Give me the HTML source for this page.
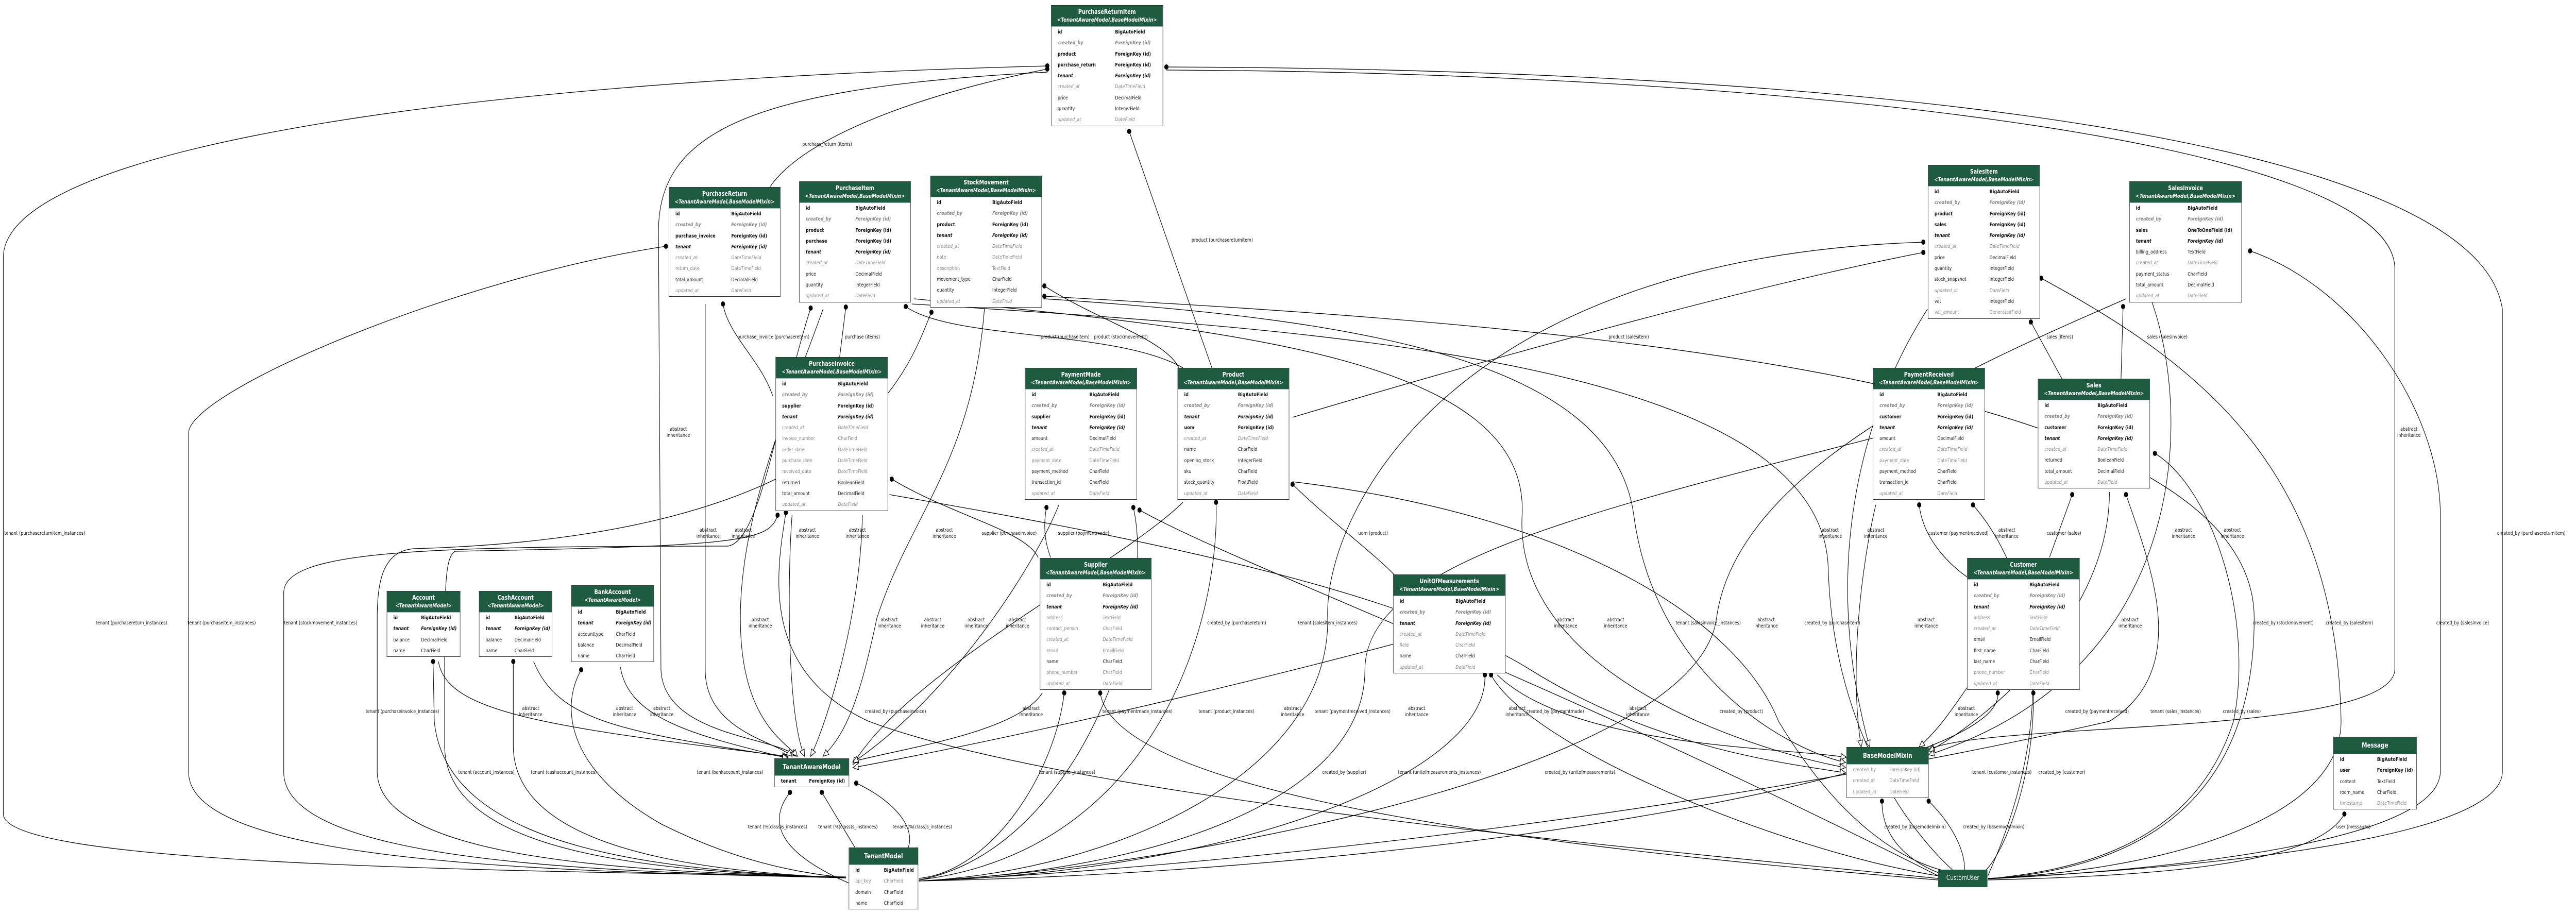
<!DOCTYPE html>
<html><head><meta charset="utf-8">
<style>
html,body{margin:0;padding:0;background:#fff;width:100%;height:100%;overflow:hidden}
#root{display:block;width:100vw;height:100vh}
#c{position:relative;width:6228px;height:1776px;overflow:hidden;background:#fff;font-family:"DejaVu Sans","Liberation Sans",sans-serif}
#c svg{position:absolute;left:0;top:0}
.t{position:absolute;border:1.6px solid #333;background:#fff;box-sizing:border-box;--c:150px}
.h{background:#1e5b40;color:#fff;text-align:center;font-size:12px;font-weight:bold;line-height:15px;height:41px;box-sizing:border-box;padding-top:5px;border-bottom:1px solid #9bb}
.h i{font-size:11px;display:block}
.h1{height:33px;line-height:33px;padding-top:0;font-size:13px}
.r{position:relative;height:21.3px;line-height:21.3px;font-size:10px;white-space:nowrap}
.r span{position:absolute;left:15px}
.r span+span{left:var(--c)}
.b{font-weight:bold;color:#111}
.bi{font-weight:bold;font-style:italic;color:#111}
.g1{font-style:italic;font-weight:bold;color:#8a8a8a}
.g2{font-style:italic;color:#8a8a8a}
.g3{color:#8a8a8a}
.n{color:#222}
.cu{position:absolute;left:4686px;top:1688px;width:119px;height:34px;background:#1e5b40;color:#fff;font-size:13px;line-height:34px;text-align:center}
.l{position:absolute;font-size:10px;line-height:12px;color:#111;text-align:center;white-space:nowrap;transform:translateX(-50%)}
</style></head><body>
<svg id="root" viewBox="0 0 6228 1776" preserveAspectRatio="none" xmlns="http://www.w3.org/2000/svg">
<foreignObject x="0" y="0" width="6228" height="1776">
<div xmlns="http://www.w3.org/1999/xhtml" id="c">
<svg width="6228" height="1776" viewBox="0 0 6228 1776">
<defs>
<marker id="d" markerWidth="12" markerHeight="12" refX="6" refY="6" markerUnits="userSpaceOnUse"><circle cx="6" cy="6" r="5" fill="#000"/></marker>
<marker id="a" markerWidth="16" markerHeight="16" refX="14" refY="8" orient="auto" markerUnits="userSpaceOnUse"><path d="M1,2 L14,8 L1,14 Z" fill="#fff" stroke="#000" stroke-width="1.2"/></marker>
</defs>
<g fill="none" stroke="#000" stroke-width="1.3">
<path marker-start="url(#d)" d="M2532,128 C1000,160 8,300 8,500 L8,1580 C8,1680 1200,1690 2045,1702"/>
<path marker-end="url(#a)" d="M2532,140 C1800,170 1592,260 1592,450 L1598,1300 C1605,1430 1880,1430 1925,1468"/>
<path marker-start="url(#d)" d="M2532,134 C2300,170 1960,250 1862,362"/>
<path marker-start="url(#d)" d="M1610,478 C1100,540 458,760 456,840 L456,1500 C460,1690 1500,1692 2045,1704"/>
<path marker-start="url(#d)" d="M1748,590 C1760,650 1840,700 1868,768"/>
<path marker-end="url(#a)" d="M1705,590 L1705,1300 C1705,1420 1880,1440 1915,1468"/>
<path marker-start="url(#d)" d="M2045,596 L2030,693"/>
<path marker-start="url(#d)" d="M1960,598 C1880,800 1840,1050 1760,1060 C1000,1060 688,1070 686,1150 L686,1500 C690,1690 1600,1692 2045,1704"/>
<path marker-end="url(#a)" d="M1990,600 C1900,800 1790,1000 1790,1200 C1790,1400 1900,1440 1928,1468"/>
<path marker-start="url(#d)" d="M2252,606 C2200,700 2100,1040 1000,1065 C930,1070 912,1120 912,1200 L912,1500 C920,1690 1700,1692 2045,1704"/>
<path marker-end="url(#a)" d="M2380,600 C2350,900 2200,1000 2120,1200 C2080,1350 2050,1420 1990,1468"/>
<path marker-start="url(#d)" d="M1880,1000 C1860,1050 1800,1060 1100,1070 C1080,1080 1075,1120 1075,1250 L1075,1450 C1080,1680 1700,1692 2045,1704"/>
<path marker-end="url(#a)" d="M1915,1000 C1905,1100 1900,1380 1945,1468"/>
<path marker-end="url(#a)" d="M2085,1000 C2080,1200 2000,1400 1960,1468"/>
<path marker-start="url(#d)" d="M1900,995 C1880,1100 1830,1300 2100,1400 C2600,1550 4000,1650 4686,1705"/>
<path marker-end="url(#a)" d="M1060,1284 C1080,1380 1300,1410 1905,1468"/>
<path marker-start="url(#d)" d="M1047,1284 L1050,1400 C1080,1650 1600,1690 2045,1704"/>
<path marker-end="url(#a)" d="M1290,1284 C1350,1400 1500,1420 1905,1470"/>
<path marker-start="url(#d)" d="M1241,1284 L1241,1450 C1245,1650 1700,1692 2045,1704"/>
<path marker-end="url(#a)" d="M1500,1295 C1520,1400 1700,1430 1905,1472"/>
<path marker-start="url(#d)" d="M1405,1300 C1350,1380 1380,1500 1600,1600 C1800,1680 1950,1695 2045,1704"/>
<path marker-start="url(#d)" d="M1910,1538 C1860,1590 1870,1650 2052,1714"/>
<path marker-start="url(#d)" d="M1987,1538 L2067,1645"/>
<path marker-start="url(#d)" d="M2070,1520 C2150,1550 2215,1600 2196,1645"/>
<path marker-end="url(#a)" d="M2520,1345 C2460,1420 2200,1450 2062,1478"/>
<path marker-start="url(#d)" d="M2573,1345 C2550,1500 2400,1690 2222,1705"/>
<path marker-start="url(#d)" d="M2660,1345 C2700,1550 3800,1650 4686,1708"/>
<path marker-start="url(#d)" d="M2156,930 C2300,1000 2480,1030 2510,1082"/>
<path marker-start="url(#d)" d="M2530,985 C2520,1030 2530,1060 2540,1082"/>
<path marker-start="url(#d)" d="M2190,595 C2300,660 2700,640 2860,714"/>
<path marker-start="url(#d)" d="M2525,555 C2650,620 2820,660 2850,714"/>
<path marker-start="url(#d)" d="M2730,255 L2930,714"/>
<path marker-start="url(#d)" d="M4650,490 C4200,560 3500,720 3125,810"/>
<path marker-start="url(#d)" d="M3125,940 C3200,1000 3330,1080 3370,1115"/>
<path marker-end="url(#a)" d="M2860,975 C2700,1100 2200,1300 2062,1484"/>
<path marker-start="url(#d)" d="M2940,975 C2950,1200 2800,1650 2222,1708"/>
<path marker-end="url(#a)" d="M2560,980 C2500,1100 2300,1350 2062,1480"/>
<path marker-start="url(#d)" d="M2740,985 C2800,1200 2600,1650 2222,1708"/>
<path marker-start="url(#d)" d="M2755,990 C3000,1100 3700,1300 4686,1700"/>
<path marker-start="url(#d)" d="M2820,130 C4600,135 5990,280 6050,600 L6050,1500 C6040,1640 5200,1690 4806,1705"/>
<path marker-end="url(#a)" d="M2820,136 C4200,140 5780,260 5790,520 L5790,1300 C5780,1430 4800,1400 4663,1455"/>
<path marker-start="url(#d)" d="M4910,625 L4985,735"/>
<path marker-start="url(#d)" d="M4650,470 C3500,500 3200,1000 3210,1200 C3215,1500 2700,1690 2222,1710"/>
<path marker-start="url(#d)" d="M4935,540 C5300,700 5650,900 5660,1400 C5660,1600 5200,1690 4806,1705"/>
<path marker-start="url(#d)" d="M5133,595 L5128,735"/>
<path marker-start="url(#d)" d="M5440,487 C5700,560 5900,800 5900,1000 L5900,1500 C5890,1640 5200,1690 4806,1706"/>
<path d="M5140,580 C4800,700 4200,900 4150,1200 C4100,1500 2800,1690 2222,1710"/>
<path marker-start="url(#d)" d="M5010,960 L4955,1082"/>
<path marker-end="url(#a)" d="M5100,955 C5100,1200 4800,1400 4663,1458"/>
<path marker-start="url(#d)" d="M5140,960 C5200,1100 5300,1300 5100,1400 C4000,1600 2800,1690 2222,1710"/>
<path marker-start="url(#d)" d="M5210,880 C5350,950 5450,1200 5400,1400 C5300,1650 5000,1690 4806,1706"/>
<path marker-start="url(#d)" d="M4640,980 C4650,1050 4720,1100 4756,1120"/>
<path marker-end="url(#a)" d="M4535,980 C4500,1100 4470,1300 4500,1450"/>
<path d="M4530,850 C3800,1000 3300,1100 3300,1300 C3300,1550 2800,1690 2222,1710"/>
<path marker-start="url(#d)" d="M4770,980 C4900,1100 5000,1350 4806,1700"/>
<path marker-end="url(#a)" d="M4760,1330 C4700,1400 4680,1420 4640,1450"/>
<path marker-start="url(#d)" d="M4830,1345 C4850,1500 3500,1690 2222,1710"/>
<path marker-start="url(#d)" d="M4916,1345 C4920,1500 4850,1650 4800,1690"/>
<path marker-start="url(#d)" d="M3590,1310 C3600,1500 3000,1690 2222,1710"/>
<path marker-start="url(#d)" d="M3605,1310 C3700,1450 4300,1650 4686,1700"/>
<path marker-end="url(#a)" d="M3620,1310 C3800,1450 4300,1450 4464,1470"/>
<path marker-start="url(#d)" d="M4550,1555 C4550,1640 4640,1680 4690,1695"/>
<path marker-start="url(#d)" d="M4663,1555 C4720,1600 4750,1650 4750,1688"/>
<path marker-start="url(#d)" d="M5668,1580 C5600,1680 5200,1700 4806,1708"/>
<path marker-start="url(#d)" d="M2525,575 C3500,620 5450,700 5450,1200 C5450,1600 5100,1690 4806,1706"/>
<path d="M2205,590 C3200,640 4400,700 4420,1100 C4430,1400 4600,1600 4720,1688"/>
<path d="M3125,935 C3800,1000 4200,1200 4300,1400 C4450,1600 4600,1670 4700,1690"/>
<path marker-end="url(#a)" d="M2525,580 C3300,620 3900,700 3950,1000 C4000,1300 4300,1450 4462,1480"/>
<path marker-end="url(#a)" d="M2210,580 C3000,640 3700,700 3680,1000 C3660,1300 4200,1450 4462,1490"/>
<path marker-end="url(#a)" d="M2150,960 C2800,1050 3400,1150 3700,1300 C4000,1450 4300,1480 4462,1500"/>
<path marker-end="url(#a)" d="M3370,1250 C2900,1350 2400,1440 2062,1490"/>
<path marker-end="url(#a)" d="M4660,600 C4500,800 4400,1100 4520,1450"/>
<path marker-end="url(#a)" d="M5200,580 C5300,800 5300,1300 4663,1465"/>
</g>
</svg>

<div class="l" style="left:108px;top:1030px">tenant (purchasereturnitem_instances)</div>
<div class="l" style="left:318px;top:1204px">tenant (purchasereturn_instances)</div>
<div class="l" style="left:536px;top:1204px">tenant (purchaseitem_instances)</div>
<div class="l" style="left:775px;top:1204px">tenant (stockmovement_instances)</div>
<div class="l" style="left:973px;top:1376px">tenant (purchaseinvoice_instances)</div>
<div class="l" style="left:1176px;top:1494px">tenant (account_instances)</div>
<div class="l" style="left:1363px;top:1494px">tenant (cashaccount_instances)</div>
<div class="l" style="left:1765px;top:1494px">tenant (bankaccount_instances)</div>
<div class="l" style="left:2000px;top:275px">purchase_return (items)</div>
<div class="l" style="left:1870px;top:649px">purchase_invoice (purchasereturn)</div>
<div class="l" style="left:2085px;top:649px">purchase (items)</div>
<div class="l" style="left:2575px;top:649px">product (purchaseitem)</div>
<div class="l" style="left:2710px;top:649px">product (stockmovement)</div>
<div class="l" style="left:2955px;top:461px">product (purchasereturnitem)</div>
<div class="l" style="left:3938px;top:649px">product (salesitem)</div>
<div class="l" style="left:2440px;top:1030px">supplier (purchaseinvoice)</div>
<div class="l" style="left:2620px;top:1030px">supplier (paymentmade)</div>
<div class="l" style="left:3320px;top:1030px">uom (product)</div>
<div class="l" style="left:2165px;top:1376px">created_by (purchaseinvoice)</div>
<div class="l" style="left:2750px;top:1376px">tenant (paymentmade_instances)</div>
<div class="l" style="left:2965px;top:1376px">tenant (product_instances)</div>
<div class="l" style="left:2580px;top:1494px">tenant (supplier_instances)</div>
<div class="l" style="left:2990px;top:1204px">created_by (purchasereturn)</div>
<div class="l" style="left:1880px;top:1600px">tenant (%(class)s_instances)</div>
<div class="l" style="left:2050px;top:1600px">tenant (%(class)s_instances)</div>
<div class="l" style="left:2230px;top:1600px">tenant (%(class)s_instances)</div>
<div class="l" style="left:3210px;top:1204px">tenant (salesitem_instances)</div>
<div class="l" style="left:4130px;top:1204px">tenant (salesinvoice_instances)</div>
<div class="l" style="left:4430px;top:1204px">created_by (purchaseitem)</div>
<div class="l" style="left:5520px;top:1204px">created_by (stockmovement)</div>
<div class="l" style="left:5680px;top:1204px">created_by (salesitem)</div>
<div class="l" style="left:5954px;top:1204px">created_by (salesinvoice)</div>
<div class="l" style="left:6120px;top:1030px">created_by (purchasereturnitem)</div>
<div class="l" style="left:3270px;top:1376px">tenant (paymentreceived_instances)</div>
<div class="l" style="left:3760px;top:1376px">created_by (paymentmade)</div>
<div class="l" style="left:4210px;top:1376px">created_by (product)</div>
<div class="l" style="left:5070px;top:1376px">created_by (paymentreceived)</div>
<div class="l" style="left:5260px;top:1376px">tenant (sales_instances)</div>
<div class="l" style="left:5420px;top:1376px">created_by (sales)</div>
<div class="l" style="left:3250px;top:1494px">created_by (supplier)</div>
<div class="l" style="left:3480px;top:1494px">tenant (unitofmeasurements_instances)</div>
<div class="l" style="left:3820px;top:1494px">created_by (unitofmeasurements)</div>
<div class="l" style="left:4840px;top:1494px">tenant (customer_instances)</div>
<div class="l" style="left:4985px;top:1494px">created_by (customer)</div>
<div class="l" style="left:4630px;top:1600px">created_by (basemodelmixin)</div>
<div class="l" style="left:4820px;top:1600px">created_by (basemodelmixin)</div>
<div class="l" style="left:5690px;top:1600px">user (messages)</div>
<div class="l" style="left:4980px;top:649px">sales (items)</div>
<div class="l" style="left:5240px;top:649px">sales (salesinvoice)</div>
<div class="l" style="left:4735px;top:1030px">customer (paymentreceived)</div>
<div class="l" style="left:4990px;top:1030px">customer (sales)</div>

<div class="l" style="left:1640px;top:828px">abstract<br/>inheritance</div>
<div class="l" style="left:1712px;top:1024px">abstract<br/>inheritance</div>
<div class="l" style="left:1797px;top:1024px">abstract<br/>inheritance</div>
<div class="l" style="left:1952px;top:1024px">abstract<br/>inheritance</div>
<div class="l" style="left:2073px;top:1024px">abstract<br/>inheritance</div>
<div class="l" style="left:2283px;top:1024px">abstract<br/>inheritance</div>
<div class="l" style="left:1838px;top:1198px">abstract<br/>inheritance</div>
<div class="l" style="left:2150px;top:1198px">abstract<br/>inheritance</div>
<div class="l" style="left:2255px;top:1198px">abstract<br/>inheritance</div>
<div class="l" style="left:2360px;top:1198px">abstract<br/>inheritance</div>
<div class="l" style="left:2460px;top:1198px">abstract<br/>inheritance</div>
<div class="l" style="left:1283px;top:1370px">abstract<br/>inheritance</div>
<div class="l" style="left:1510px;top:1370px">abstract<br/>inheritance</div>
<div class="l" style="left:1600px;top:1370px">abstract<br/>inheritance</div>
<div class="l" style="left:2493px;top:1370px">abstract<br/>inheritance</div>
<div class="l" style="left:3125px;top:1370px">abstract<br/>inheritance</div>
<div class="l" style="left:4425px;top:1024px">abstract<br/>inheritance</div>
<div class="l" style="left:4535px;top:1024px">abstract<br/>inheritance</div>
<div class="l" style="left:4852px;top:1024px">abstract<br/>inheritance</div>
<div class="l" style="left:5279px;top:1024px">abstract<br/>inheritance</div>
<div class="l" style="left:5397px;top:1024px">abstract<br/>inheritance</div>
<div class="l" style="left:5824px;top:828px">abstract<br/>inheritance</div>
<div class="l" style="left:3785px;top:1198px">abstract<br/>inheritance</div>
<div class="l" style="left:3906px;top:1198px">abstract<br/>inheritance</div>
<div class="l" style="left:4270px;top:1198px">abstract<br/>inheritance</div>
<div class="l" style="left:4657px;top:1198px">abstract<br/>inheritance</div>
<div class="l" style="left:5150px;top:1198px">abstract<br/>inheritance</div>
<div class="l" style="left:3425px;top:1370px">abstract<br/>inheritance</div>
<div class="l" style="left:3668px;top:1370px">abstract<br/>inheritance</div>
<div class="l" style="left:3960px;top:1370px">abstract<br/>inheritance</div>
<div class="l" style="left:4754px;top:1370px">abstract<br/>inheritance</div>

<div class="t" style="left:2541px;top:10px;width:271px;--c:154px">
<div class="h">PurchaseReturnItem<i>&lt;TenantAwareModel,BaseModelMixin&gt;</i></div>
<div class="r"><span class="b">id</span><span class="b">BigAutoField</span></div>
<div class="r"><span class="g1">created_by</span><span class="g1">ForeignKey (id)</span></div>
<div class="r"><span class="b">product</span><span class="b">ForeignKey (id)</span></div>
<div class="r"><span class="b">purchase_return</span><span class="b">ForeignKey (id)</span></div>
<div class="r"><span class="bi">tenant</span><span class="bi">ForeignKey (id)</span></div>
<div class="r"><span class="g2">created_at</span><span class="g2">DateTimeField</span></div>
<div class="r"><span class="n">price</span><span class="n">DecimalField</span></div>
<div class="r"><span class="n">quantity</span><span class="n">IntegerField</span></div>
<div class="r"><span class="g2">updated_at</span><span class="g2">DateField</span></div>
</div>

<div class="t" style="left:1617px;top:363px;width:270px">
<div class="h">PurchaseReturn<i>&lt;TenantAwareModel,BaseModelMixin&gt;</i></div>
<div class="r"><span class="b">id</span><span class="b">BigAutoField</span></div>
<div class="r"><span class="g1">created_by</span><span class="g1">ForeignKey (id)</span></div>
<div class="r"><span class="b">purchase_invoice</span><span class="b">ForeignKey (id)</span></div>
<div class="r"><span class="bi">tenant</span><span class="bi">ForeignKey (id)</span></div>
<div class="r"><span class="g2">created_at</span><span class="g2">DateTimeField</span></div>
<div class="r"><span class="g3">return_date</span><span class="g3">DateTimeField</span></div>
<div class="r"><span class="n">total_amount</span><span class="n">DecimalField</span></div>
<div class="r"><span class="g2">updated_at</span><span class="g2">DateField</span></div>
</div>

<div class="t" style="left:1932px;top:352px;width:270px;--c:135px">
<div class="h">PurchaseItem<i>&lt;TenantAwareModel,BaseModelMixin&gt;</i></div>
<div class="r"><span class="b">id</span><span class="b">BigAutoField</span></div>
<div class="r"><span class="g1">created_by</span><span class="g1">ForeignKey (id)</span></div>
<div class="r"><span class="b">product</span><span class="b">ForeignKey (id)</span></div>
<div class="r"><span class="b">purchase</span><span class="b">ForeignKey (id)</span></div>
<div class="r"><span class="bi">tenant</span><span class="bi">ForeignKey (id)</span></div>
<div class="r"><span class="g2">created_at</span><span class="g2">DateTimeField</span></div>
<div class="r"><span class="n">price</span><span class="n">DecimalField</span></div>
<div class="r"><span class="n">quantity</span><span class="n">IntegerField</span></div>
<div class="r"><span class="g2">updated_at</span><span class="g2">DateField</span></div>
</div>

<div class="t" style="left:2249px;top:341px;width:270px;--c:149px">
<div class="h">StockMovement<i>&lt;TenantAwareModel,BaseModelMixin&gt;</i></div>
<div class="r"><span class="b">id</span><span class="b">BigAutoField</span></div>
<div class="r"><span class="g1">created_by</span><span class="g1">ForeignKey (id)</span></div>
<div class="r"><span class="b">product</span><span class="b">ForeignKey (id)</span></div>
<div class="r"><span class="bi">tenant</span><span class="bi">ForeignKey (id)</span></div>
<div class="r"><span class="g2">created_at</span><span class="g2">DateTimeField</span></div>
<div class="r"><span class="g3">date</span><span class="g3">DateTimeField</span></div>
<div class="r"><span class="g3">description</span><span class="g3">TextField</span></div>
<div class="r"><span class="n">movement_type</span><span class="n">CharField</span></div>
<div class="r"><span class="n">quantity</span><span class="n">IntegerField</span></div>
<div class="r"><span class="g2">updated_at</span><span class="g2">DateField</span></div>
</div>

<div class="t" style="left:1875px;top:693px;width:272px;--c:150px">
<div class="h">PurchaseInvoice<i>&lt;TenantAwareModel,BaseModelMixin&gt;</i></div>
<div class="r"><span class="b">id</span><span class="b">BigAutoField</span></div>
<div class="r"><span class="g1">created_by</span><span class="g1">ForeignKey (id)</span></div>
<div class="r"><span class="b">supplier</span><span class="b">ForeignKey (id)</span></div>
<div class="r"><span class="bi">tenant</span><span class="bi">ForeignKey (id)</span></div>
<div class="r"><span class="g2">created_at</span><span class="g2">DateTimeField</span></div>
<div class="r"><span class="g3">invoice_number</span><span class="g3">CharField</span></div>
<div class="r"><span class="g3">order_date</span><span class="g3">DateTimeField</span></div>
<div class="r"><span class="g3">purchase_date</span><span class="g3">DateTimeField</span></div>
<div class="r"><span class="g3">received_date</span><span class="g3">DateTimeField</span></div>
<div class="r"><span class="n">returned</span><span class="n">BooleanField</span></div>
<div class="r"><span class="n">total_amount</span><span class="n">DecimalField</span></div>
<div class="r"><span class="g2">updated_at</span><span class="g2">DateField</span></div>
</div>

<div class="t" style="left:2478px;top:714px;width:271px;--c:155px">
<div class="h">PaymentMade<i>&lt;TenantAwareModel,BaseModelMixin&gt;</i></div>
<div class="r"><span class="b">id</span><span class="b">BigAutoField</span></div>
<div class="r"><span class="g1">created_by</span><span class="g1">ForeignKey (id)</span></div>
<div class="r"><span class="b">supplier</span><span class="b">ForeignKey (id)</span></div>
<div class="r"><span class="bi">tenant</span><span class="bi">ForeignKey (id)</span></div>
<div class="r"><span class="n">amount</span><span class="n">DecimalField</span></div>
<div class="r"><span class="g2">created_at</span><span class="g2">DateTimeField</span></div>
<div class="r"><span class="g3">payment_date</span><span class="g3">DateTimeField</span></div>
<div class="r"><span class="n">payment_method</span><span class="n">CharField</span></div>
<div class="r"><span class="n">transaction_id</span><span class="n">CharField</span></div>
<div class="r"><span class="g2">updated_at</span><span class="g2">DateField</span></div>
</div>

<div class="t" style="left:2847px;top:714px;width:270px;--c:145px">
<div class="h">Product<i>&lt;TenantAwareModel,BaseModelMixin&gt;</i></div>
<div class="r"><span class="b">id</span><span class="b">BigAutoField</span></div>
<div class="r"><span class="g1">created_by</span><span class="g1">ForeignKey (id)</span></div>
<div class="r"><span class="bi">tenant</span><span class="bi">ForeignKey (id)</span></div>
<div class="r"><span class="b">uom</span><span class="b">ForeignKey (id)</span></div>
<div class="r"><span class="g2">created_at</span><span class="g2">DateTimeField</span></div>
<div class="r"><span class="n">name</span><span class="n">CharField</span></div>
<div class="r"><span class="n">opening_stock</span><span class="n">IntegerField</span></div>
<div class="r"><span class="n">sku</span><span class="n">CharField</span></div>
<div class="r"><span class="n">stock_quantity</span><span class="n">FloatField</span></div>
<div class="r"><span class="g2">updated_at</span><span class="g2">DateField</span></div>
</div>

<div class="t" style="left:2514px;top:1083px;width:270px;--c:151px">
<div class="h">Supplier<i>&lt;TenantAwareModel,BaseModelMixin&gt;</i></div>
<div class="r"><span class="b">id</span><span class="b">BigAutoField</span></div>
<div class="r"><span class="g1">created_by</span><span class="g1">ForeignKey (id)</span></div>
<div class="r"><span class="bi">tenant</span><span class="bi">ForeignKey (id)</span></div>
<div class="r"><span class="g3">address</span><span class="g3">TextField</span></div>
<div class="r"><span class="g3">contact_person</span><span class="g3">CharField</span></div>
<div class="r"><span class="g2">created_at</span><span class="g2">DateTimeField</span></div>
<div class="r"><span class="g3">email</span><span class="g3">EmailField</span></div>
<div class="r"><span class="n">name</span><span class="n">CharField</span></div>
<div class="r"><span class="g3">phone_number</span><span class="g3">CharField</span></div>
<div class="r"><span class="g2">updated_at</span><span class="g2">DateField</span></div>
</div>

<div class="t" style="left:3368px;top:1115px;width:272px;--c:150px">
<div class="h">UnitOfMeasurements<i>&lt;TenantAwareModel,BaseModelMixin&gt;</i></div>
<div class="r"><span class="b">id</span><span class="b">BigAutoField</span></div>
<div class="r"><span class="g1">created_by</span><span class="g1">ForeignKey (id)</span></div>
<div class="r"><span class="bi">tenant</span><span class="bi">ForeignKey (id)</span></div>
<div class="r"><span class="g2">created_at</span><span class="g2">DateTimeField</span></div>
<div class="r"><span class="g3">field</span><span class="g3">CharField</span></div>
<div class="r"><span class="n">name</span><span class="n">CharField</span></div>
<div class="r"><span class="g2">updated_at</span><span class="g2">DateField</span></div>
</div>

<div class="t" style="left:4661px;top:320px;width:271px;--c:148px">
<div class="h">SalesItem<i>&lt;TenantAwareModel,BaseModelMixin&gt;</i></div>
<div class="r"><span class="b">id</span><span class="b">BigAutoField</span></div>
<div class="r"><span class="g1">created_by</span><span class="g1">ForeignKey (id)</span></div>
<div class="r"><span class="b">product</span><span class="b">ForeignKey (id)</span></div>
<div class="r"><span class="b">sales</span><span class="b">ForeignKey (id)</span></div>
<div class="r"><span class="bi">tenant</span><span class="bi">ForeignKey (id)</span></div>
<div class="r"><span class="g2">created_at</span><span class="g2">DateTimeField</span></div>
<div class="r"><span class="n">price</span><span class="n">DecimalField</span></div>
<div class="r"><span class="n">quantity</span><span class="n">IntegerField</span></div>
<div class="r"><span class="n">stock_snapshot</span><span class="n">IntegerField</span></div>
<div class="r"><span class="g2">updated_at</span><span class="g2">DateField</span></div>
<div class="r"><span class="n">vat</span><span class="n">IntegerField</span></div>
<div class="r"><span class="g3">vat_amount</span><span class="g3">GeneratedField</span></div>
</div>

<div class="t" style="left:5148px;top:352px;width:272px;--c:140px">
<div class="h">SalesInvoice<i>&lt;TenantAwareModel,BaseModelMixin&gt;</i></div>
<div class="r"><span class="b">id</span><span class="b">BigAutoField</span></div>
<div class="r"><span class="g1">created_by</span><span class="g1">ForeignKey (id)</span></div>
<div class="r"><span class="b">sales</span><span class="b">OneToOneField (id)</span></div>
<div class="r"><span class="bi">tenant</span><span class="bi">ForeignKey (id)</span></div>
<div class="r"><span class="n">billing_address</span><span class="n">TextField</span></div>
<div class="r"><span class="g2">created_at</span><span class="g2">DateTimeField</span></div>
<div class="r"><span class="n">payment_status</span><span class="n">CharField</span></div>
<div class="r"><span class="n">total_amount</span><span class="n">DecimalField</span></div>
<div class="r"><span class="g2">updated_at</span><span class="g2">DateField</span></div>
</div>

<div class="t" style="left:4528px;top:714px;width:271px;--c:155px">
<div class="h">PaymentReceived<i>&lt;TenantAwareModel,BaseModelMixin&gt;</i></div>
<div class="r"><span class="b">id</span><span class="b">BigAutoField</span></div>
<div class="r"><span class="g1">created_by</span><span class="g1">ForeignKey (id)</span></div>
<div class="r"><span class="b">customer</span><span class="b">ForeignKey (id)</span></div>
<div class="r"><span class="bi">tenant</span><span class="bi">ForeignKey (id)</span></div>
<div class="r"><span class="n">amount</span><span class="n">DecimalField</span></div>
<div class="r"><span class="g2">created_at</span><span class="g2">DateTimeField</span></div>
<div class="r"><span class="g3">payment_date</span><span class="g3">DateTimeField</span></div>
<div class="r"><span class="n">payment_method</span><span class="n">CharField</span></div>
<div class="r"><span class="n">transaction_id</span><span class="n">CharField</span></div>
<div class="r"><span class="g2">updated_at</span><span class="g2">DateField</span></div>
</div>

<div class="t" style="left:4927px;top:735px;width:271px;--c:143px">
<div class="h">Sales<i>&lt;TenantAwareModel,BaseModelMixin&gt;</i></div>
<div class="r"><span class="b">id</span><span class="b">BigAutoField</span></div>
<div class="r"><span class="g1">created_by</span><span class="g1">ForeignKey (id)</span></div>
<div class="r"><span class="b">customer</span><span class="b">ForeignKey (id)</span></div>
<div class="r"><span class="bi">tenant</span><span class="bi">ForeignKey (id)</span></div>
<div class="r"><span class="g2">created_at</span><span class="g2">DateTimeField</span></div>
<div class="r"><span class="n">returned</span><span class="n">BooleanField</span></div>
<div class="r"><span class="n">total_amount</span><span class="n">DecimalField</span></div>
<div class="r"><span class="g2">updated_at</span><span class="g2">DateField</span></div>
</div>

<div class="t" style="left:4756px;top:1083px;width:272px;--c:150px">
<div class="h">Customer<i>&lt;TenantAwareModel,BaseModelMixin&gt;</i></div>
<div class="r"><span class="b">id</span><span class="b">BigAutoField</span></div>
<div class="r"><span class="g1">created_by</span><span class="g1">ForeignKey (id)</span></div>
<div class="r"><span class="bi">tenant</span><span class="bi">ForeignKey (id)</span></div>
<div class="r"><span class="g3">address</span><span class="g3">TextField</span></div>
<div class="r"><span class="g2">created_at</span><span class="g2">DateTimeField</span></div>
<div class="r"><span class="n">email</span><span class="n">EmailField</span></div>
<div class="r"><span class="n">first_name</span><span class="n">CharField</span></div>
<div class="r"><span class="n">last_name</span><span class="n">CharField</span></div>
<div class="r"><span class="g3">phone_number</span><span class="g3">CharField</span></div>
<div class="r"><span class="g2">updated_at</span><span class="g2">DateField</span></div>
</div>

<div class="t" style="left:935px;top:1147px;width:178px;--c:82px">
<div class="h">Account<i>&lt;TenantAwareModel&gt;</i></div>
<div class="r"><span class="b">id</span><span class="b">BigAutoField</span></div>
<div class="r"><span class="bi">tenant</span><span class="bi">ForeignKey (id)</span></div>
<div class="r"><span class="n">balance</span><span class="n">DecimalField</span></div>
<div class="r"><span class="n">name</span><span class="n">CharField</span></div>
</div>

<div class="t" style="left:1158px;top:1147px;width:177px;--c:85px">
<div class="h">CashAccount<i>&lt;TenantAwareModel&gt;</i></div>
<div class="r"><span class="b">id</span><span class="b">BigAutoField</span></div>
<div class="r"><span class="bi">tenant</span><span class="bi">ForeignKey (id)</span></div>
<div class="r"><span class="n">balance</span><span class="n">DecimalField</span></div>
<div class="r"><span class="n">name</span><span class="n">CharField</span></div>
</div>

<div class="t" style="left:1381px;top:1136px;width:200px;--c:107px">
<div class="h">BankAccount<i>&lt;TenantAwareModel&gt;</i></div>
<div class="r"><span class="b">id</span><span class="b">BigAutoField</span></div>
<div class="r"><span class="bi">tenant</span><span class="bi">ForeignKey (id)</span></div>
<div class="r"><span class="n">accounttype</span><span class="n">CharField</span></div>
<div class="r"><span class="n">balance</span><span class="n">DecimalField</span></div>
<div class="r"><span class="n">name</span><span class="n">CharField</span></div>
</div>

<div class="t" style="left:1872px;top:1472px;width:181px;--c:83px">
<div class="h h1">TenantAwareModel</div>
<div class="r"><span class="b">tenant</span><span class="b">ForeignKey (id)</span></div>
</div>

<div class="t" style="left:2052px;top:1645px;width:168px;--c:84px">
<div class="h h1">TenantModel</div>
<div class="r"><span class="b">id</span><span class="b">BigAutoField</span></div>
<div class="r"><span class="g3">api_key</span><span class="g3">CharField</span></div>
<div class="r"><span class="n">domain</span><span class="n">CharField</span></div>
<div class="r"><span class="n">name</span><span class="n">CharField</span></div>
</div>

<div class="t" style="left:4464px;top:1450px;width:199px;--c:103px">
<div class="h h1">BaseModelMixin</div>
<div class="r"><span class="g3">created_by</span><span class="g3">ForeignKey (id)</span></div>
<div class="r"><span class="g3">created_at</span><span class="g3">DateTimeField</span></div>
<div class="r"><span class="g3">updated_at</span><span class="g3">DateField</span></div>
</div>

<div class="t" style="left:5641px;top:1430px;width:202px;--c:105px">
<div class="h h1">Message</div>
<div class="r"><span class="b">id</span><span class="b">BigAutoField</span></div>
<div class="r"><span class="b">user</span><span class="b">ForeignKey (id)</span></div>
<div class="r"><span class="n">content</span><span class="n">TextField</span></div>
<div class="r"><span class="n">room_name</span><span class="n">CharField</span></div>
<div class="r"><span class="g3">timestamp</span><span class="g3">DateTimeField</span></div>
</div>

<div class="cu">CustomUser</div>
</div>
</foreignObject>
</svg>
</body></html>
